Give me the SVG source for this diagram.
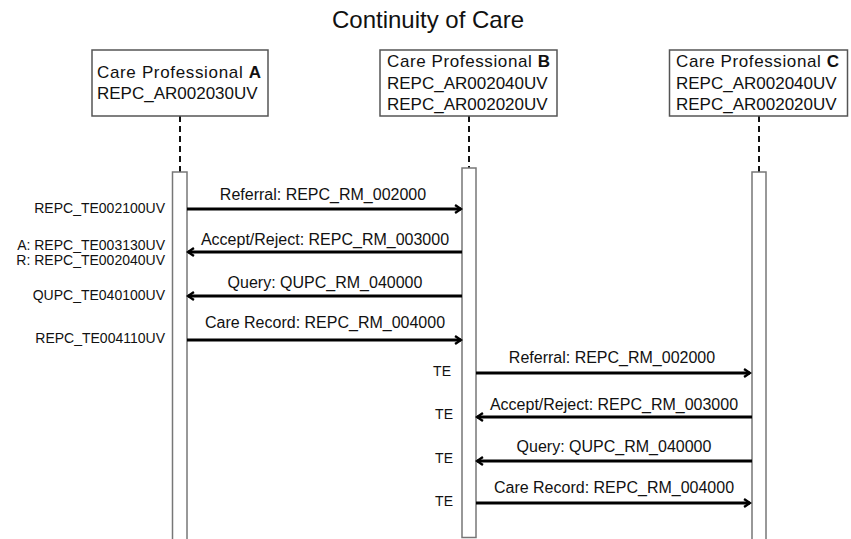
<svg xmlns="http://www.w3.org/2000/svg" width="851" height="539" viewBox="0 0 851 539">
<style>
text{font-family:"Liberation Sans",Arial,sans-serif;fill:#111}
.title{font-size:24px;text-anchor:middle}
.box{fill:#fff;stroke:#555;stroke-width:1.5}
.bt{font-size:17px}
.act{fill:#fff;stroke:#777;stroke-width:1.5}
.life{stroke:#111;stroke-width:2;stroke-dasharray:6,4;fill:none}
.msg{stroke:#000;stroke-width:3;fill:none}
.ml{font-size:16px;text-anchor:middle}
.sl{font-size:14px;text-anchor:end}
</style>
<defs>
<marker id="ah" viewBox="0 0 10 10" refX="8" refY="5" markerWidth="3.3" markerHeight="3.8" orient="auto" markerUnits="strokeWidth">
<polyline points="2,1 8,5 2,9" fill="none" stroke="#000" stroke-width="2.4"/>
</marker>
</defs>
<rect width="851" height="539" fill="#fff"/>
<text class="title" x="428" y="28">Continuity of Care</text>
<g id="lifelines">
<line class="life" x1="180" y1="116" x2="180" y2="172"/>
<line class="life" x1="469" y1="116" x2="469" y2="168"/>
<line class="life" x1="759" y1="116" x2="759" y2="172"/>
</g>
<g id="nodeA">
<rect class="box" x="92" y="50" width="176" height="66"/>
<text class="bt" x="97" y="78" textLength="164" lengthAdjust="spacing">Care Professional <tspan font-weight="bold">A</tspan></text>
<text class="bt" x="97" y="99">REPC_AR002030UV</text>
<rect class="act" x="172.5" y="172" width="14.5" height="380"/>
</g>
<g id="nodeB">
<rect class="box" x="380" y="50" width="177" height="66"/>
<text class="bt" x="387" y="67" textLength="163" lengthAdjust="spacing">Care Professional <tspan font-weight="bold">B</tspan></text>
<text class="bt" x="387" y="89">REPC_AR002040UV</text>
<text class="bt" x="387" y="110">REPC_AR002020UV</text>
<rect class="act" x="462" y="168" width="14" height="369.5"/>
</g>
<g id="nodeC">
<rect class="box" x="669.5" y="50" width="178" height="66"/>
<text class="bt" x="676" y="67" textLength="163" lengthAdjust="spacing">Care Professional <tspan font-weight="bold">C</tspan></text>
<text class="bt" x="676" y="89">REPC_AR002040UV</text>
<text class="bt" x="676" y="110">REPC_AR002020UV</text>
<rect class="act" x="752" y="172" width="14" height="380"/>
</g>
<g id="connectors">
<line class="msg" x1="187" y1="209" x2="461" y2="209" marker-end="url(#ah)"/>
<line class="msg" x1="462" y1="252" x2="188" y2="252" marker-end="url(#ah)"/>
<line class="msg" x1="462" y1="296" x2="188" y2="296" marker-end="url(#ah)"/>
<line class="msg" x1="187" y1="340" x2="461" y2="340" marker-end="url(#ah)"/>
<line class="msg" x1="476" y1="373" x2="750" y2="373" marker-end="url(#ah)"/>
<line class="msg" x1="752" y1="417" x2="477" y2="417" marker-end="url(#ah)"/>
<line class="msg" x1="752" y1="461" x2="477" y2="461" marker-end="url(#ah)"/>
<line class="msg" x1="476" y1="503" x2="750" y2="503" marker-end="url(#ah)"/>
</g>
<g id="labels">
<text class="ml" x="323" y="200">Referral: REPC_RM_002000</text>
<text class="ml" x="325" y="245">Accept/Reject: REPC_RM_003000</text>
<text class="ml" x="325" y="288">Query: QUPC_RM_040000</text>
<text class="ml" x="325" y="328">Care Record: REPC_RM_004000</text>
<text class="ml" x="612" y="363">Referral: REPC_RM_002000</text>
<text class="ml" x="614" y="410">Accept/Reject: REPC_RM_003000</text>
<text class="ml" x="614" y="452">Query: QUPC_RM_040000</text>
<text class="ml" x="614" y="493">Care Record: REPC_RM_004000</text>
<text class="sl" x="165" y="213">REPC_TE002100UV</text>
<text class="sl" x="165" y="250">A: REPC_TE003130UV</text>
<text class="sl" x="165" y="265">R: REPC_TE002040UV</text>
<text class="sl" x="165" y="300">QUPC_TE040100UV</text>
<text class="sl" x="165" y="343">REPC_TE004110UV</text>
<text class="sl" x="451" y="376">TE</text>
<text class="sl" x="453" y="419">TE</text>
<text class="sl" x="453" y="463">TE</text>
<text class="sl" x="453" y="506">TE</text>
</g>
</svg>
